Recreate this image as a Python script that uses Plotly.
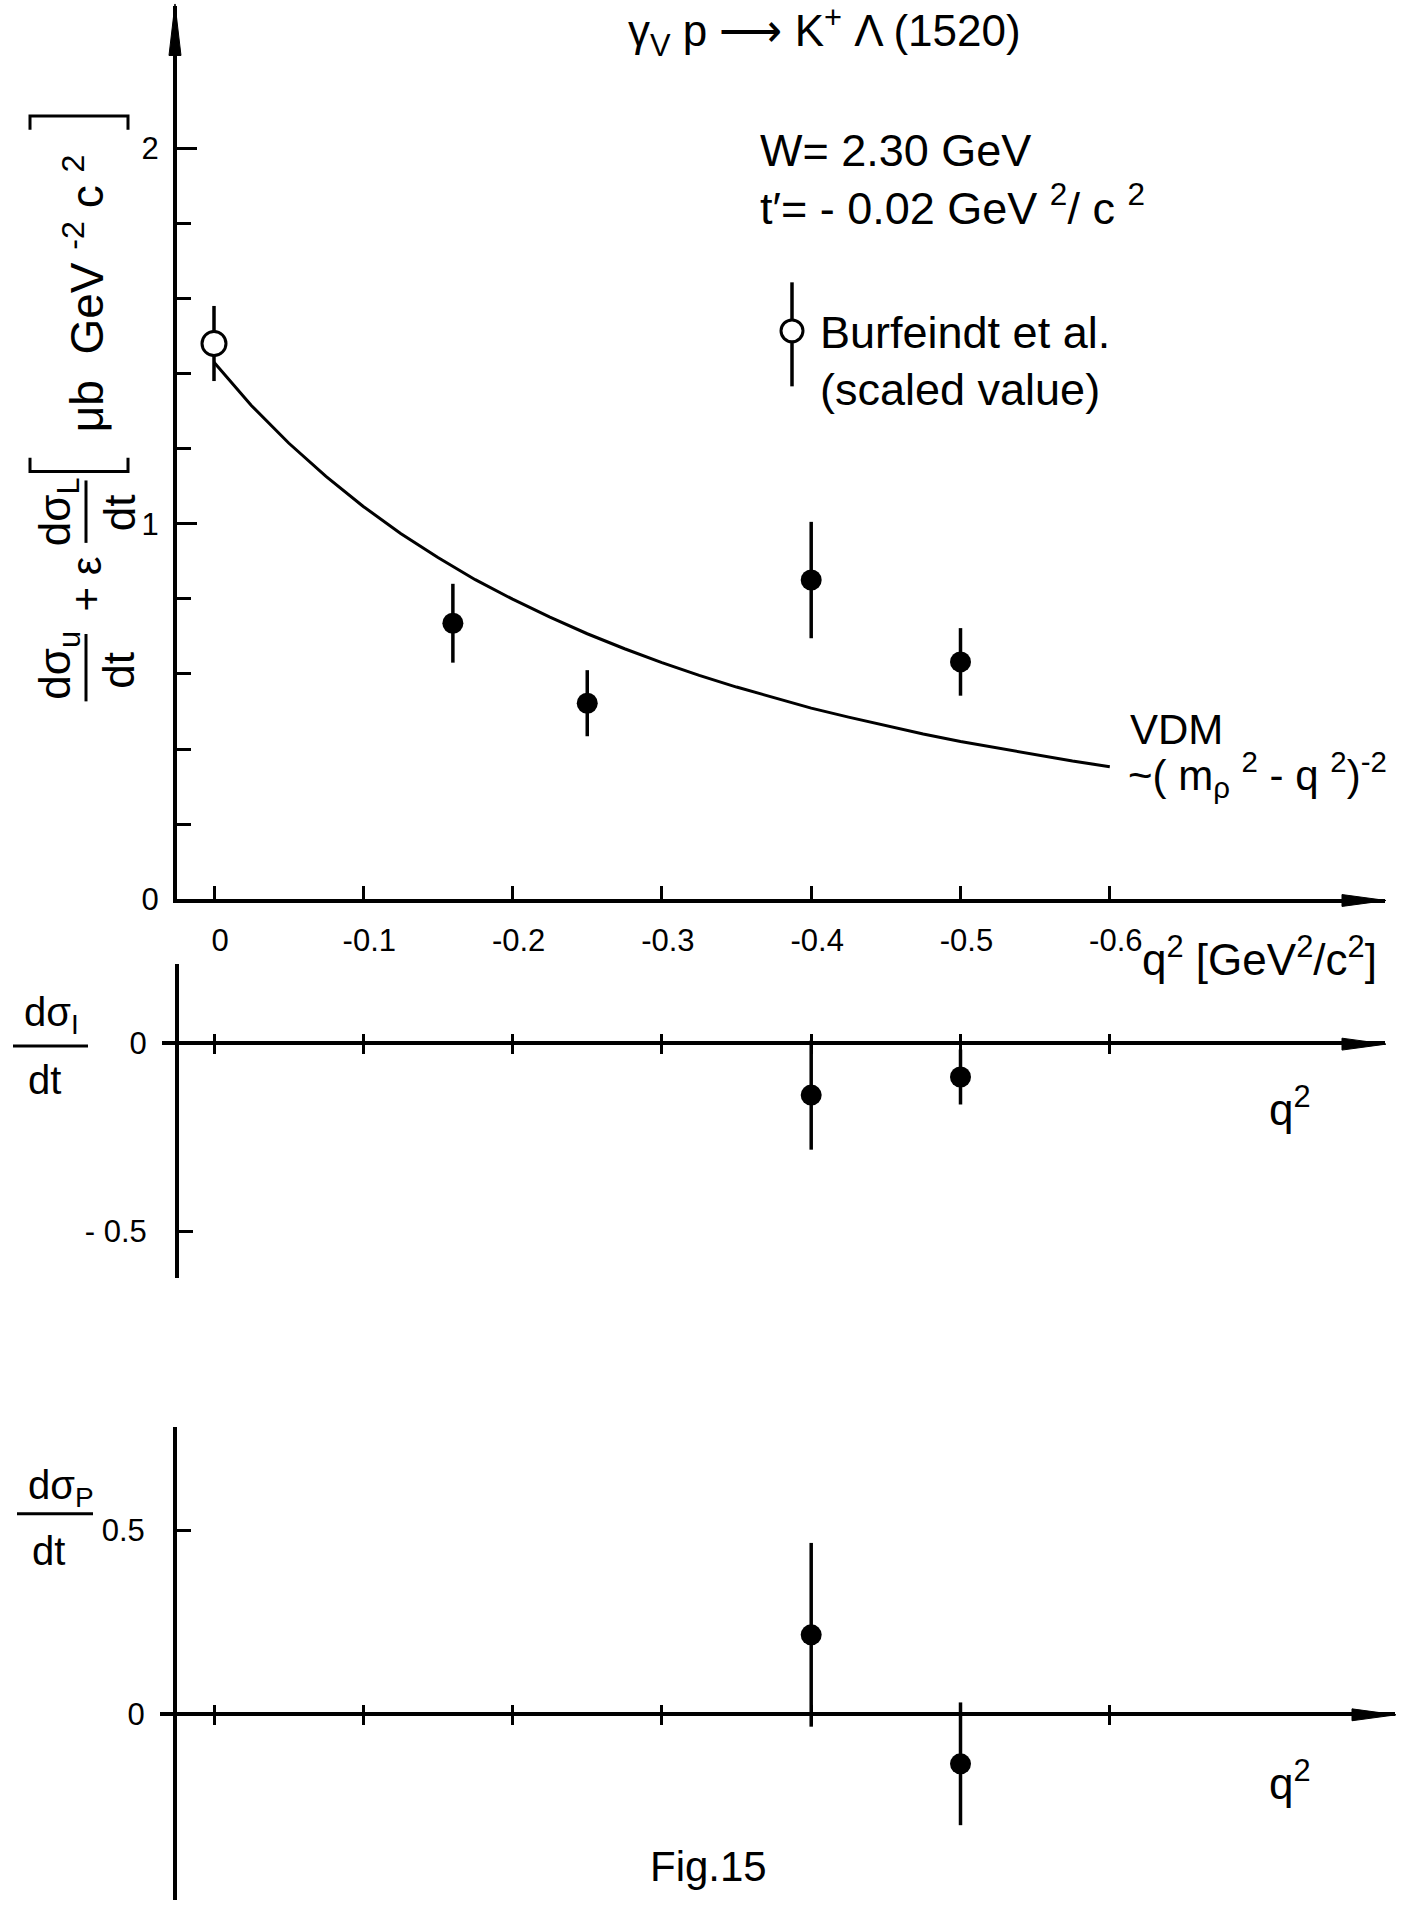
import plotly.graph_objects as go

W, H = 1418, 1923

# ---------------- data ----------------
q2_ticks = [0, -0.1, -0.2, -0.3, -0.4, -0.5, -0.6]
q2_ticktext = ["0", "-0.1", "-0.2", "-0.3", "-0.4", "-0.5", "-0.6"]

# VDM curve  ~ (m_rho^2 - q^2)^-2
q2_vdm = [0.0, -0.025, -0.05, -0.075, -0.10, -0.125, -0.15, -0.175, -0.20, -0.225, -0.25,
          -0.275, -0.30, -0.325, -0.35, -0.375, -0.40, -0.425, -0.45, -0.475, -0.50,
          -0.525, -0.55, -0.575, -0.60]
vdm = [1.43, 1.315, 1.215, 1.126, 1.046, 0.974, 0.910, 0.851, 0.799, 0.751, 0.707,
       0.667, 0.630, 0.596, 0.565, 0.536, 0.509, 0.485, 0.462, 0.440, 0.420,
       0.402, 0.385, 0.368, 0.353]

# Burfeindt et al. (scaled value)
q2_burf = [0.0]
burf = [1.48]
burf_err = [0.10]

# dsigma_u/dt + eps dsigma_L/dt
q2_u = [-0.16, -0.25, -0.40, -0.50]
sig_u = [0.735, 0.522, 0.850, 0.632]
sig_u_err = [0.105, 0.088, 0.155, 0.090]

# dsigma_I/dt
q2_i = [-0.40, -0.50]
sig_i = [-0.138, -0.090]
sig_i_err = [0.145, 0.073]

# dsigma_P/dt
q2_p = [-0.40, -0.50]
sig_p = [0.215, -0.136]
sig_p_err = [0.250, 0.167]

# ---------------- geometry helpers ----------------
def px(x):
    return x / W


def py(y):
    return 1 - y / H


X0PIX = 214.0      # pixel of q2 = 0
XSCALE = 1493.0    # pixels per unit of q2


def xr(left, right):
    return [(X0PIX - left) / XSCALE, -(right - X0PIX) / XSCALE]


XDOM1, XR1 = [px(177), px(1385)], xr(177, 1385)
XDOM2, XR2 = [px(162), px(1385)], xr(162, 1385)
XDOM3, XR3 = [px(160), px(1395)], xr(160, 1395)

TXT = "Liberation Sans, Arial, sans-serif"
BLACK = "black"

fig = go.Figure()

# top panel
fig.add_trace(go.Scatter(x=q2_vdm, y=vdm, mode="lines", line=dict(color=BLACK, width=3),
                         xaxis="x", yaxis="y", showlegend=False, hoverinfo="skip"))
fig.add_trace(go.Scatter(x=q2_burf, y=burf, mode="markers",
                         marker=dict(symbol="circle", size=24, color="white", line=dict(color=BLACK, width=3)),
                         error_y=dict(type="data", array=burf_err, thickness=3.5, width=0, color=BLACK),
                         xaxis="x", yaxis="y", showlegend=False))
fig.add_trace(go.Scatter(x=q2_u, y=sig_u, mode="markers",
                         marker=dict(symbol="circle", size=21, color=BLACK),
                         error_y=dict(type="data", array=sig_u_err, thickness=3.5, width=0, color=BLACK),
                         xaxis="x", yaxis="y", showlegend=False))
# middle panel
fig.add_trace(go.Scatter(x=q2_i, y=sig_i, mode="markers",
                         marker=dict(symbol="circle", size=21, color=BLACK),
                         error_y=dict(type="data", array=sig_i_err, thickness=3.5, width=0, color=BLACK),
                         xaxis="x2", yaxis="y2", showlegend=False))
fig.add_trace(go.Scatter(x=[None], y=[None], xaxis="x4", yaxis="y2", showlegend=False, hoverinfo="skip"))
# bottom panel
fig.add_trace(go.Scatter(x=q2_p, y=sig_p, mode="markers",
                         marker=dict(symbol="circle", size=21, color=BLACK),
                         error_y=dict(type="data", array=sig_p_err, thickness=3.5, width=0, color=BLACK),
                         xaxis="x3", yaxis="y3", showlegend=False))
fig.add_trace(go.Scatter(x=[None], y=[None], xaxis="x5", yaxis="y3", showlegend=False, hoverinfo="skip"))

tickfont = dict(family=TXT, size=31, color=BLACK)
common_x = dict(showgrid=False, zeroline=False, showline=True,
                linecolor=BLACK, linewidth=4, tickvals=q2_ticks, ticktext=q2_ticktext,
                tickcolor=BLACK, tickwidth=3)
common_y = dict(showgrid=False, zeroline=False, showline=True, linecolor=BLACK, linewidth=4,
                ticks="inside", tickcolor=BLACK, tickwidth=3, tickfont=tickfont)
over_x = dict(showline=False, showgrid=False, zeroline=False, tickvals=q2_ticks, ticks="inside",
              ticklen=9, tickwidth=3, tickcolor=BLACK, showticklabels=False)

fig.update_layout(
    width=W, height=H, margin=dict(l=0, r=0, t=0, b=0),
    paper_bgcolor="white", plot_bgcolor="white",
    xaxis=dict(common_x, domain=XDOM1, range=XR1, anchor="y", ticks="inside", ticklen=13,
               tickfont=tickfont, ticklabelstandoff=11, ticklabelshift=-6),
    yaxis=dict(common_y, domain=[py(907.7), py(6)], range=[0, 2.379], anchor="x",
               tickvals=[0, 1, 2], ticktext=["0", "1", "2"], ticklen=20, ticklabelstandoff=8,
               minor=dict(tickvals=[0.2, 0.4, 0.6, 0.8, 1.2, 1.4, 1.6, 1.8], ticks="inside",
                          ticklen=14, tickwidth=3, tickcolor=BLACK, showgrid=False)),
    xaxis2=dict(common_x, domain=XDOM2, range=XR2, anchor="free", position=py(1053),
                ticks="outside", ticklen=9, showticklabels=False),
    xaxis4=dict(over_x, domain=XDOM2, range=XR2, overlaying="x2", anchor="free", position=py(1053)),
    yaxis2=dict(common_y, domain=[py(1290), py(973)], range=[-0.6237, 0.2105], anchor="free",
                position=px(177), tickvals=[0, -0.5], ticktext=["0", "- 0.5"], ticklen=14,
                ticklabelstandoff=22),
    xaxis3=dict(common_x, domain=XDOM3, range=XR3, anchor="free", position=py(1730),
                ticks="outside", ticklen=9, showticklabels=False),
    xaxis5=dict(over_x, domain=XDOM3, range=XR3, overlaying="x3", anchor="free", position=py(1730)),
    yaxis3=dict(common_y, domain=[py(1918), py(1440)], range=[-0.5067, 0.7817], anchor="free",
                position=px(175), tickvals=[0, 0.5], ticktext=["0", "0.5"], ticklen=14,
                ticklabelstandoff=22),
)

ann = []


def text(t, x, y, size=40, xanchor="center", yanchor="middle", angle=0):
    ann.append(dict(text=t, x=px(x), y=py(y), xref="paper", yref="paper", showarrow=False,
                    xanchor=xanchor, yanchor=yanchor, textangle=angle,
                    font=dict(family=TXT, size=size, color=BLACK)))


# title
text("γ<sub>V</sub> p ⟶ K<sup>+</sup> Λ (1520)", 824, 32, size=44)

text("W= 2.30 GeV", 758, 152, size=45, xanchor="left")
text("t′= - 0.02 GeV <sup>2</sup>/ c <sup>2</sup>", 758, 207, size=45, xanchor="left")
text("Burfeindt et al.", 818, 336, size=45, xanchor="left")
text("(scaled value)", 818, 393, size=45, xanchor="left")
text("VDM", 1128, 736, size=42, xanchor="left")
text("~( m<sub>ρ</sub> <sup>2</sup> - q <sup>2</sup>)<sup>-2</sup>", 1126, 782, size=42, xanchor="left")
text("q<sup>2</sup> [GeV<sup>2</sup>/c<sup>2</sup>]", 1140, 966, size=44, xanchor="left")
text("q<sup>2</sup>", 1290, 1117, size=44)
text("q<sup>2</sup>", 1290, 1797, size=44)
text("Fig.15", 708, 1884, size=42)

# rotated y label of the top panel
text("dσ<sub>u</sub>", 58, 672, size=44, angle=-90)
text("dt", 119, 676, size=44, angle=-90)
text("+ ε", 86, 590, size=42, angle=-90)
text("dσ<sub>L</sub>", 58, 517, size=44, angle=-90)
text("dt", 119, 517, size=44, angle=-90)
text("μb  GeV <sup>-2</sup> c <sup>2</sup>", 84, 296, size=46, angle=-90)

# middle / bottom y labels
text("dσ<sub>I</sub>", 22, 1025, size=40, xanchor="left")
text("dt", 44, 1090, size=40)
text("dσ<sub>P</sub>", 26, 1502, size=40, xanchor="left")
text("dt", 48, 1566, size=40)

shapes = []


def seg(x0, y0, x1, y1, w=3):
    shapes.append(dict(type="line", xref="paper", yref="paper", x0=px(x0), y0=py(y0), x1=px(x1), y1=py(y1),
                       line=dict(color=BLACK, width=w)))


def path(pts, w=3, fill=None, closed=False):
    d = "M " + " L ".join(f"{px(a):.5f},{py(b):.5f}" for a, b in pts) + (" Z" if closed else "")
    s = dict(type="path", xref="paper", yref="paper", path=d, line=dict(color=BLACK, width=w))
    if fill:
        s["fillcolor"] = fill
    shapes.append(s)


# fraction bars
seg(86, 640, 86, 708)
seg(86, 485, 86, 548)
seg(13, 1056, 88, 1056)
seg(17, 1528, 93, 1528)
# brackets around the unit (rotated)
path([(30, 462), (30, 476), (128, 476), (128, 462)])
path([(30, 131), (30, 117), (128, 117), (128, 131)])
# legend key
seg(792, 285, 792, 390, w=3.5)
shapes.append(dict(type="circle", xref="paper", yref="paper", x0=px(781), y0=py(323), x1=px(803), y1=py(345),
                   fillcolor="white", line=dict(color=BLACK, width=3)))
# axis arrow heads (long, narrow)
path([(1342, 903), (1386, 909), (1342, 915)], w=1, fill=BLACK, closed=True)
path([(1342, 1048), (1386, 1054), (1342, 1060)], w=1, fill=BLACK, closed=True)
path([(1352, 1725), (1396, 1731), (1352, 1737)], w=1, fill=BLACK, closed=True)
path([(169, 56), (175, 4), (181, 56)], w=1, fill=BLACK, closed=True)

fig.update_layout(annotations=ann, shapes=shapes)
fig.write_html("out.html")
